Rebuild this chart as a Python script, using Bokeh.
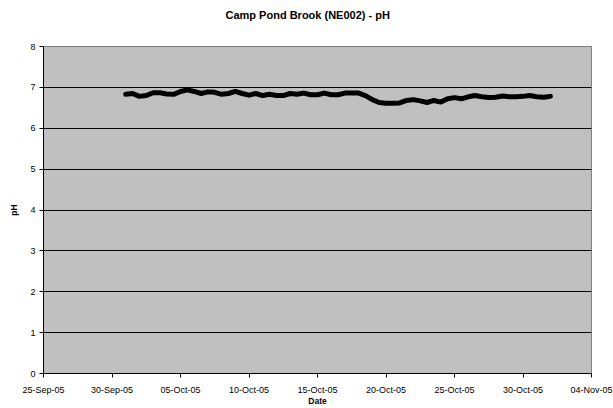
import pandas as pd
from bokeh.plotting import figure
from bokeh.models import Range1d, FixedTicker, DatetimeTickFormatter, ColumnDataSource, Title
from bokeh.embed import file_html
from bokeh.resources import INLINE

# ---- data ----
start_time = "2005-10-01 00:00"
step = "12h"
ph_values = [
    6.83, 6.85, 6.78, 6.80, 6.87, 6.87, 6.84, 6.83, 6.90, 6.94,
    6.90, 6.85, 6.89, 6.88, 6.83, 6.85, 6.90, 6.85, 6.81, 6.85,
    6.80, 6.83, 6.80, 6.80, 6.85, 6.83, 6.86, 6.82, 6.82, 6.86,
    6.82, 6.82, 6.86, 6.86, 6.86, 6.80, 6.70, 6.63, 6.61, 6.61,
    6.62, 6.68, 6.70, 6.67, 6.63, 6.68, 6.64, 6.72, 6.75, 6.72,
    6.77, 6.80, 6.77, 6.75, 6.76, 6.79, 6.77, 6.77, 6.78, 6.80,
    6.77, 6.76, 6.78,
]
x_tick_dates = ["2005-09-25", "2005-09-30", "2005-10-05", "2005-10-10", "2005-10-15",
                "2005-10-20", "2005-10-25", "2005-10-30", "2005-11-04"]
y_ticks = [0, 1, 2, 3, 4, 5, 6, 7, 8]
y_grid = [1, 2, 3, 4, 5, 6, 7]
title_text = "Camp Pond Brook (NE002) - pH"

times = pd.date_range(start_time, periods=len(ph_values), freq=step)
src = ColumnDataSource(dict(t=times, ph=ph_values))

tick_dt = pd.to_datetime(x_tick_dates)
tick_ms = [int(d.value // 10**6) for d in tick_dt]

FONT = "Liberation Sans"

p = figure(width=613, height=408, x_axis_type="datetime", title=None,
           output_backend="svg", toolbar_location=None,
           x_range=Range1d(tick_dt[0], tick_dt[-1]), y_range=Range1d(0, 8),
           min_border_left=43, min_border_right=22, min_border_top=46, min_border_bottom=24)

# spacer panel next to the frame, then the real title above it
p.add_layout(Title(text=" ", text_font=FONT, text_font_size="10px", standoff=10), "above")
p.add_layout(Title(text=title_text, align="left", offset=182, vertical_align="middle",
                   text_font=FONT, text_font_size="11px", text_font_style="bold",
                   text_color="black", standoff=4), "above")

p.background_fill_color = "#C0C0C0"
p.border_fill_color = "white"
p.outline_line_color = "#808080"
p.outline_line_width = 1

p.line(x="t", y="ph", source=src, line_color="black", line_width=5, line_join="round", line_cap="round")

p.xgrid.grid_line_color = None
p.ygrid.ticker = FixedTicker(ticks=y_grid)
p.ygrid.grid_line_color = "black"
p.ygrid.grid_line_width = 1

p.xaxis.ticker = FixedTicker(ticks=tick_ms)
fmt = "%d-%b-%y"
p.xaxis.formatter = DatetimeTickFormatter(milliseconds=fmt, seconds=fmt, minsec=fmt, minutes=fmt,
                                          hourmin=fmt, hours=fmt, days=fmt, months=fmt, years=fmt)
p.yaxis.ticker = FixedTicker(ticks=y_ticks)

p.xaxis.axis_label = "Date"
p.yaxis.axis_label = "pH"
for ax in (p.xaxis, p.yaxis):
    ax.axis_line_color = "black"
    ax.axis_line_width = 1
    ax.major_tick_line_color = "black"
    ax.major_tick_in = 0
    ax.major_tick_out = 4
    ax.minor_tick_line_color = None
    ax.major_label_text_font = FONT
    ax.major_label_text_font_size = "9px"
    ax.major_label_text_color = "black"
    ax.axis_label_text_font = FONT
    ax.axis_label_text_font_size = "8.5px"
    ax.axis_label_text_font_style = "bold"
    ax.axis_label_text_color = "black"
p.xaxis.major_label_standoff = 7
p.xaxis.axis_label_standoff = -2
p.yaxis.major_label_standoff = 4
p.yaxis.axis_label_standoff = 8

open("out.html", "w").write(file_html(p, INLINE))
